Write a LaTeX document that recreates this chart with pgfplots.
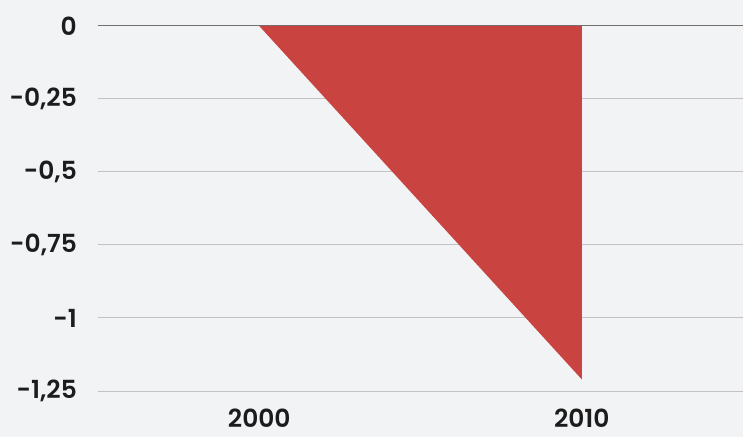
\documentclass[border=0pt]{standalone}
\usepackage{fontspec}
\setmainfont{Poppins}[UprightFont=* SemiBold]
\usepackage{pgfplots}
\pgfplotsset{compat=1.18}
\definecolor{bg}{HTML}{F2F3F5}
\definecolor{redfill}{HTML}{C94341}
\definecolor{gridc}{HTML}{C2C2C4}
\definecolor{zeroc}{HTML}{707070}
\definecolor{txt}{HTML}{1C1C1C}
\begin{document}
\begin{tikzpicture}
\fill[bg] (0,0) rectangle (743bp,437bp);
\useasboundingbox (0,0) rectangle (743bp,437bp);
\begin{axis}[
  at={(98bp,46bp)}, anchor=south west,
  scale only axis, width=645bp, height=365bp,
  xmin=-0.5, xmax=1.5, ymin=-1.25, ymax=0,
  axis line style={draw=none},
  major tick style={draw=none},
  xtick={0,1}, xticklabels={2000,2010},
  ytick={-1.25,-1,-0.75,-0.5,-0.25},
  yticklabels={{-1,25},{-1},{-0,75},{-0,5},{-0,25}},
  extra y ticks={0}, extra y tick labels={0},
  extra y tick style={grid style={color=zeroc, line width=1bp}},
  ymajorgrids,
  grid style={color=gridc, line width=1bp},
  ticklabel style={font=\fontsize{25}{28}\selectfont, text=txt},
  yticklabel style={anchor=east, inner sep=0pt, xshift=-21bp},
  xticklabel style={anchor=north, inner sep=0pt, yshift=-18bp},
  clip=false,
]
\addplot[fill=redfill, draw=none] coordinates {(0,0) (1,-1.21)} \closedcycle;
\end{axis}
\end{tikzpicture}
\end{document}
